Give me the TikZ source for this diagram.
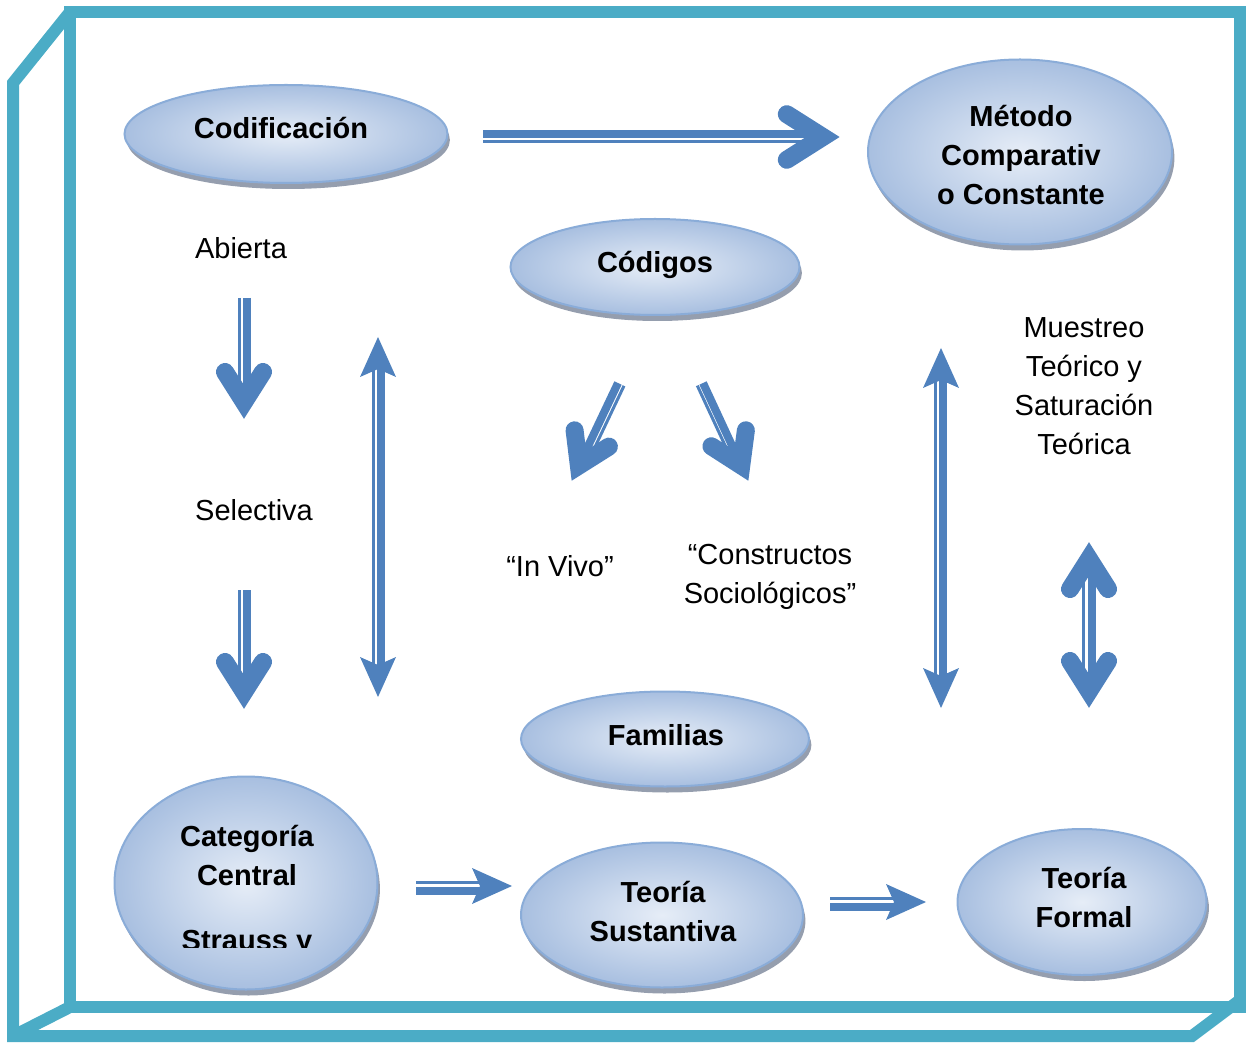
\documentclass[tikz,border=0pt]{standalone}
\usepackage{fontspec}
\setmainfont{Liberation Sans}
\usetikzlibrary{shapes.geometric,shadows,calc}
\definecolor{arrowblue}{HTML}{4F81BD}
\definecolor{framecol}{HTML}{4BACC6}
\definecolor{bubbleedge}{HTML}{8AACD8}
\definecolor{bubblein}{RGB}{230,237,247}
\definecolor{bubbleout}{RGB}{168,191,224}
\definecolor{shadowcol}{HTML}{8A93A5}
\tikzset{
  frameline/.style={draw=framecol, line width=6pt, line join=miter},
  bubble/.style={ellipse, draw=bubbleedge, line width=1pt, inner sep=0pt,
    inner color=bubblein, outer color=bubbleout,
    drop shadow={shadow xshift=1.2pt, shadow yshift=-3pt, fill=shadowcol, opacity=0.9}},
  btext/.style={font=\bfseries\fontsize{14.5pt}{19.5pt}\selectfont, align=center, inner sep=0pt},
  ltext/.style={font=\fontsize{14.5pt}{19.5pt}\selectfont, align=center, inner sep=0pt},
  thickshaft/.style={draw=arrowblue, line width=4pt},
  thinshaft/.style={draw=arrowblue, line width=1.5pt},
  chevronhead/.pic={\draw[arrowblue, line width=9pt, line cap=round, line join=miter] (-46,-19) -- (-16,0) -- (-46,19);},
  stealthhead/.pic={\fill[arrowblue] (0,0) -- (-40,-18) -- (-32,0) -- (-40,18) -- cycle;},
}
\begin{document}
\begin{tikzpicture}[x=0.5pt,y=-0.5pt]
\useasboundingbox (0,0) rectangle (1246,1047);
% frame (cube)
\draw[frameline] (70,12) rectangle (1240,1007);
\draw[frameline] (70,12) -- (13,83) -- (13,1036) -- (1192,1036) -- (1240,1000);
\draw[frameline] (13,1036) -- (70,1007);

% bubbles
\node[bubble, minimum width=161.5pt, minimum height=49pt] (cod) at (286,134) {};
\node[btext] (codt) at (281,128) {Codificación};
\node[bubble, minimum width=152pt, minimum height=92.5pt] (met) at (1020,152) {};
\node[btext] (mett) at (1021,155) {Método\\Comparativ\\o Constante};
\node[bubble, minimum width=144.5pt, minimum height=48pt] (cdg) at (655,267) {};
\node[btext] (cdgt) at (655,265) {Códigos};
\node[bubble, minimum width=144pt, minimum height=47.5pt] (fam) at (665,739) {};
\node[btext] (famt) at (666,735) {Familias};
\node[bubble, minimum width=131.5pt, minimum height=106.5pt] (cat) at (246,883) {};
\node[btext] (catt) at (247,856) {Categoría\\Central};
\begin{scope}
  \clip (100,900) rectangle (400,947);
  \node[btext] (cats) at (247,943) {Strauss y};
\end{scope}
\node[bubble, minimum width=141pt, minimum height=72.5pt] (sus) at (662,915) {};
\node[btext] (sust) at (663,911) {Teoría\\Sustantiva};
\node[bubble, minimum width=124.5pt, minimum height=73pt] (for) at (1082,902) {};
\node[btext] (fort) at (1084,897) {Teoría\\Formal};

% plain labels
\node[ltext] (abi) at (241,248) {Abierta};
\node[ltext] (sel) at (254,510) {Selectiva};
\node[ltext] (inv) at (560,566) {“In Vivo”};
\node[ltext] (con) at (770,577) {“Constructos\\Sociológicos”};
\node[ltext] (mue) at (1084,386) {Muestreo\\Teórico y\\Saturación\\Teórica};

% arrow coordinates
\coordinate (a1s) at (483,137); \coordinate (a1t) at (842,137);
\coordinate (a2s) at (244,298); \coordinate (a2t) at (244,418);
\coordinate (a3s) at (244,590); \coordinate (a3t) at (244,708);
\coordinate (a4u) at (378,337); \coordinate (a4d) at (378,697);
\coordinate (a5s) at (618,383); \coordinate (a5t) at (572,480);
\coordinate (a6s) at (703,383); \coordinate (a6t) at (748,480);
\coordinate (a7u) at (941,348); \coordinate (a7d) at (941,708);
\coordinate (a8u) at (1089,543); \coordinate (a8d) at (1089,707);
\coordinate (a9s) at (416,886); \coordinate (a9t) at (512,886);
\coordinate (a10s) at (830,902); \coordinate (a10t) at (926,902);

% A1 Codificacion -> Metodo
\draw[thickshaft] ($(a1s)+(0,-3)$) -- ($(a1t)+(-35,-3)$);
\draw[thinshaft] ($(a1s)+(0,5)$) -- ($(a1t)+(-35,5)$);
\pic[scale=1.2] at (a1t) {chevronhead};
% A2 Abierta down
\draw[thinshaft] ($(a2s)+(-5,0)$) -- ($(a2t)+(-5,-28)$);
\draw[thickshaft] ($(a2s)+(3,0)$) -- ($(a2t)+(3,-28)$);
\pic[rotate=-90] at (a2t) {chevronhead};
% A3 Selectiva down
\draw[thinshaft] ($(a3s)+(-5,0)$) -- ($(a3t)+(-5,-28)$);
\draw[thickshaft] ($(a3s)+(3,0)$) -- ($(a3t)+(3,-28)$);
\pic[rotate=-90] at (a3t) {chevronhead};
% A4 vertical double
\draw[thinshaft] ($(a4u)+(-5,32)$) -- ($(a4d)+(-5,-32)$);
\draw[thickshaft] ($(a4u)+(2.5,32)$) -- ($(a4d)+(2.5,-32)$);
\pic[rotate=90] at (a4u) {stealthhead};
\pic[rotate=-90] at (a4d) {stealthhead};
% A5 Codigos down-left
\draw[thickshaft] (a5s) -- ($(a5t)+(12,-25.3)$);
\draw[thinshaft] ($(a5s)+(6,2.8)$) -- ($(a5t)+(18,-22.5)$);
\pic[rotate=-115.4] at (a5t) {chevronhead};
% A6 Codigos down-right
\draw[thickshaft] (a6s) -- ($(a6t)+(-11.8,-25.4)$);
\draw[thinshaft] ($(a6s)+(-5.7,2.6)$) -- ($(a6t)+(-17.5,-22.8)$);
\pic[rotate=-65.1] at (a6t) {chevronhead};
% A7 vertical double right
\draw[thinshaft] ($(a7u)+(-6,32)$) -- ($(a7d)+(-6,-32)$);
\draw[thickshaft] ($(a7u)+(2,32)$) -- ($(a7d)+(2,-32)$);
\pic[rotate=90] at (a7u) {stealthhead};
\pic[rotate=-90] at (a7d) {stealthhead};
% A8 short double with chevrons
\draw[thinshaft] ($(a8u)+(-5.5,28)$) -- ($(a8d)+(-5.5,-28)$);
\draw[thickshaft] ($(a8u)+(2.5,28)$) -- ($(a8d)+(2.5,-28)$);
\pic[rotate=90] at (a8u) {chevronhead};
\pic[rotate=-90] at (a8d) {chevronhead};
% A9 Categoria -> Sustantiva
\draw[thinshaft] ($(a9s)+(0,-3.5)$) -- ($(a9t)+(-32,-3.5)$);
\draw[thickshaft] ($(a9s)+(0,4.5)$) -- ($(a9t)+(-32,4.5)$);
\pic at (a9t) {stealthhead};
% A10 Sustantiva -> Formal
\draw[thinshaft] ($(a10s)+(0,-3.5)$) -- ($(a10t)+(-32,-3.5)$);
\draw[thickshaft] ($(a10s)+(0,4.5)$) -- ($(a10t)+(-32,4.5)$);
\pic at (a10t) {stealthhead};
\end{tikzpicture}
\end{document}
